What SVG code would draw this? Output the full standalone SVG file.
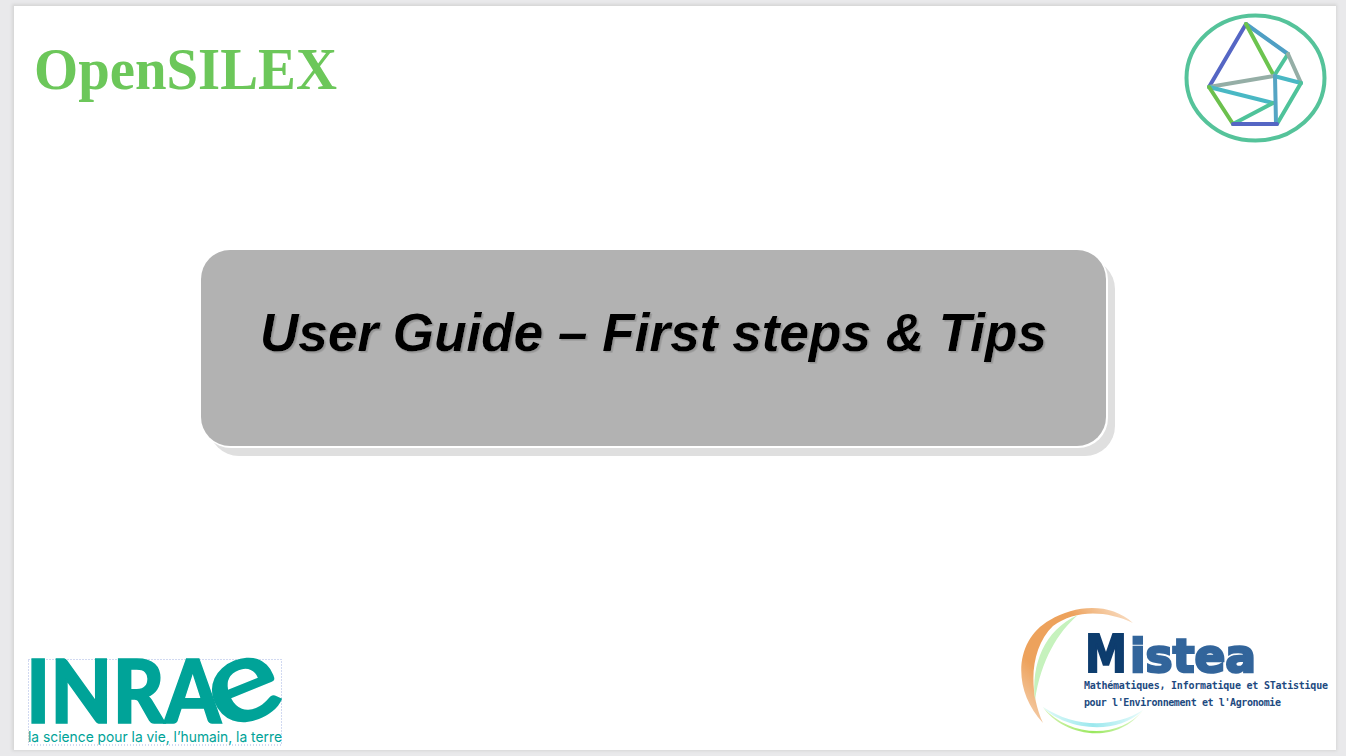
<svg xmlns="http://www.w3.org/2000/svg" width="1346" height="756" viewBox="0 0 1346 756">
<style>
.sans{font-family:"Liberation Sans",Arial,sans-serif}
.m{font-family:"DejaVu Sans Mono",monospace;font-weight:700;fill:#1d4a80;font-size:10px}
.l{fill:none;stroke-width:4;stroke-linecap:round}
</style>
<defs>
<filter id="textShadow" x="-5%" y="-20%" width="110%" height="140%"><feDropShadow dx="1.6" dy="1.6" stdDeviation="0.5" flood-color="#949494"/></filter>
<filter id="soft" x="-5%" y="-5%" width="110%" height="110%"><feGaussianBlur stdDeviation="1.5"/></filter>
<filter id="soft2" x="-20%" y="-20%" width="140%" height="140%"><feGaussianBlur stdDeviation="0.7"/></filter>
<filter id="raster" x="-5%" y="-5%" width="110%" height="110%"><feGaussianBlur stdDeviation="0.45"/></filter>
<linearGradient id="or" x1="0" y1="1" x2="1" y2="0"><stop offset="0" stop-color="#f6d8bd"/><stop offset=".3" stop-color="#eda25c"/><stop offset=".7" stop-color="#eda25c"/><stop offset="1" stop-color="#fbe8d6"/></linearGradient>
<linearGradient id="gr" x1="0" y1="0" x2="1" y2="0"><stop offset="0" stop-color="#d8f3b8"/><stop offset=".5" stop-color="#9ae85e"/><stop offset="1" stop-color="#e3f7d3"/></linearGradient>
<linearGradient id="cy" x1="0" y1="0" x2="1" y2="0"><stop offset="0" stop-color="#e0faf8"/><stop offset=".5" stop-color="#9ce8ee"/><stop offset="1" stop-color="#e8fbfb"/></linearGradient>
</defs>
<rect width="1346" height="756" fill="#e9e9eb"/>
<rect x="12" y="4" width="1325" height="747" fill="#d6d6d6" filter="url(#soft)"/>
<rect x="14" y="6" width="1322" height="744" fill="#fff"/>

<g id="opensilex-logo"><text x="34" y="89" font-family="'Liberation Serif',serif" font-weight="700" font-size="60" fill="#6cc75a" filter="url(#raster)" textLength="303" lengthAdjust="spacingAndGlyphs">OpenSILEX</text></g>

<g id="network-logo" filter="url(#raster)">
<ellipse cx="1255.5" cy="78" rx="69" ry="62.5" fill="none" stroke="#55c39a" stroke-width="4"/>
<path class="l" stroke="#5566c4" d="M1246 24L1209 87"/>
<path class="l" stroke="#4f9fc4" d="M1246 24L1288 54"/>
<path class="l" stroke="#6cc450" d="M1246 24L1274 76"/>
<path class="l" stroke="#4fc39a" d="M1288 54L1274 76"/>
<path class="l" stroke="#95aea6" d="M1288 54L1301 83"/>
<path class="l" stroke="#4ab8c4" d="M1274 76L1301 83"/>
<path class="l" stroke="#95aea6" d="M1274 76L1209 87"/>
<path class="l" stroke="#4ab8c4" d="M1209 87L1273 103"/>
<path class="l" stroke="#4fc39a" d="M1273 103L1233 124"/>
<path class="l" stroke="#6cc04e" d="M1209 87L1233 124"/>
<path class="l" stroke="#4fc39a" d="M1301 83L1277 124"/>
<path class="l" stroke="#55a5c4" d="M1275 76L1276 124"/>
<path class="l" stroke="#5566c4" d="M1233 124L1277 124"/>
</g>

<g id="title-box">
<rect x="209" y="259" width="906" height="197" rx="30" fill="#dfdfdf"/>
<rect x="201" y="250" width="907" height="198" rx="30" fill="#fff"/>
<rect x="201" y="250" width="905" height="196" rx="29" fill="#b2b2b2"/>
<text class="sans" x="260" y="351" font-size="53" font-weight="700" font-style="italic" fill="#000" filter="url(#textShadow)" textLength="787" lengthAdjust="spacingAndGlyphs">User Guide – First steps &amp; Tips</text>
</g>

<g id="inrae-logo">
<rect x="28.5" y="659.5" width="253" height="85.5" fill="none" stroke="#a3b3e2" stroke-dasharray="1 2"/>
<text x="26" y="723" font-family="Lato,sans-serif" font-weight="900" font-size="88" fill="#00a398" stroke="#00a398" stroke-width="1.5" textLength="195" lengthAdjust="spacingAndGlyphs">INRA</text>
<text x="0" y="0" transform="translate(222,733) rotate(-22) scale(1.15,1)" font-family="Lato,sans-serif" font-weight="700" font-size="120" fill="#00a398">e</text>
<text x="28" y="742" font-family="Inter,Lato,sans-serif" font-size="14.5" fill="#00a398" textLength="254" lengthAdjust="spacingAndGlyphs">la science pour la vie, l’humain, la terre</text>
</g>

<g id="mistea-logo">
<path d="M1043 723C1012 690 1014 640 1050 620C1075 605 1110 602 1133 623C1105 610 1075 610 1053 626C1030 648 1028 690 1043 723Z" fill="url(#or)" filter="url(#soft2)"/>
<path d="M1035 700C1031 665 1044 630 1078 615C1058 632 1041 660 1035 700Z" fill="#c6f2bd" filter="url(#soft2)"/>
<path d="M1043 707C1060 734 1115 748 1143 710C1120 739 1070 738 1043 707Z" fill="url(#gr)" filter="url(#soft2)"/>
<path d="M1043 707C1062 728 1115 738 1143 710C1115 728 1075 728 1043 707Z" fill="url(#cy)" filter="url(#soft2)"/>
<text y="672" font-family="'DejaVu Sans',sans-serif" font-weight="700" font-size="46" fill="#33659b" stroke="#33659b" stroke-width="2.5" filter="url(#raster)"><tspan x="1085" font-size="52" textLength="42" lengthAdjust="spacingAndGlyphs" fill="#0f3c6e" stroke="#0f3c6e" stroke-width="2">M</tspan><tspan x="1130" textLength="126" lengthAdjust="spacingAndGlyphs">istea</tspan></text>
<text class="m" x="1084" y="689" textLength="244" lengthAdjust="spacing">Mathématiques, Informatique et STatistique</text>
<text class="m" x="1084" y="706" textLength="197" lengthAdjust="spacing">pour l'Environnement et l'Agronomie</text>
</g>
</svg>
